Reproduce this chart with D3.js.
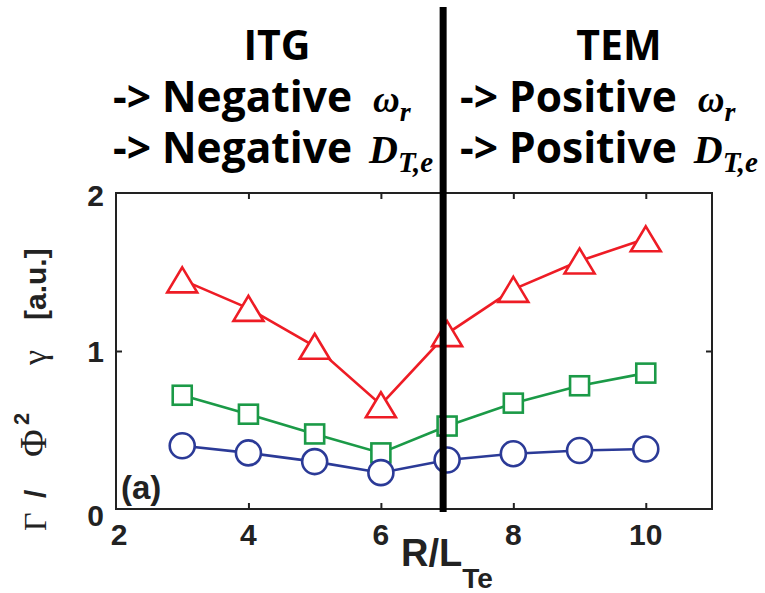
<!DOCTYPE html>
<html>
<head>
<meta charset="utf-8">
<script src="https://cdn.jsdelivr.net/npm/d3@7"></script>
<style>
  html, body { margin: 0; padding: 0; background: #fff; }
  svg { display: block; }
</style>
</head>
<body>
<svg id="chart" width="765" height="593"></svg>
<script>
// Normalized flux vs R/L_Te for three quantities
const xValues = [3, 4, 5, 6, 7, 8, 9, 10];
const fluxA = [1.45, 1.27, 1.03, 0.66, 1.11, 1.39, 1.57, 1.71];  // triangles
const fluxB = [0.72, 0.60, 0.475, 0.355, 0.525, 0.67, 0.78, 0.86]; // squares
const fluxC = [0.40, 0.355, 0.30, 0.23, 0.31, 0.35, 0.37, 0.38];   // circles
const xTicks = [2, 4, 6, 8, 10];
const yTicks = [0, 1, 2];
const xDomain = [2, 11];
const yDomain = [0, 2];
const boundaryX = 6.94; // ITG / TEM transition

const svg = d3.select("#chart");
const sans = "'Liberation Sans', Arial, Helvetica, sans-serif";
const serif = "'Liberation Serif', 'Times New Roman', serif";
const head = "'Open Sans', 'Noto Sans', sans-serif";

const x = d3.scaleLinear().domain(xDomain).range([116, 712]);
const y = d3.scaleLinear().domain(yDomain).range([509, 193]);

// frame
svg.append("rect")
  .attr("x", x(xDomain[0])).attr("y", y(yDomain[1]))
  .attr("width", x(xDomain[1]) - x(xDomain[0]))
  .attr("height", y(yDomain[0]) - y(yDomain[1]))
  .attr("fill", "none").attr("stroke", "#222").attr("stroke-width", 2);

// inward ticks on all four sides
const tickLen = 6;
const axisStyle = g => {
  g.select(".domain").remove();
  g.selectAll(".tick line").attr("stroke", "#222").attr("stroke-width", 2);
  g.selectAll(".tick text").remove();
};
svg.append("g").attr("transform", `translate(0,${y(0)})`)
  .call(d3.axisBottom(x).tickValues(xTicks.slice(1)).tickSize(-tickLen)).call(axisStyle);
svg.append("g").attr("transform", `translate(0,${y(2)})`)
  .call(d3.axisTop(x).tickValues(xTicks.slice(1)).tickSize(-tickLen)).call(axisStyle);
svg.append("g").attr("transform", `translate(${x(2)},0)`)
  .call(d3.axisLeft(y).tickValues([1]).tickSize(-tickLen)).call(axisStyle);
svg.append("g").attr("transform", `translate(${x(11)},0)`)
  .call(d3.axisRight(y).tickValues([1]).tickSize(-tickLen)).call(axisStyle);

// tick labels
svg.append("g").selectAll("text").data(xTicks).join("text")
  .attr("x", d => x(d) + (d === 2 ? 3 : 0))
  .attr("y", 545)
  .attr("text-anchor", "middle")
  .attr("font-family", sans).attr("font-weight", "bold").attr("font-size", 30)
  .attr("fill", "#222")
  .text(d => d);
svg.append("g").selectAll("text").data(yTicks).join("text")
  .attr("x", 104)
  .attr("y", d => y(d) + (d === 0 ? 17 : d === 1 ? 11 : 13))
  .attr("text-anchor", "end")
  .attr("font-family", sans).attr("font-weight", "bold").attr("font-size", 30)
  .attr("fill", "#222")
  .text(d => d);

// x axis title
const xt = svg.append("text").attr("x", 401).attr("y", 566)
  .attr("font-family", sans).attr("font-weight", "bold").attr("fill", "#222");
xt.append("tspan").attr("font-size", 38).text("R/L");
xt.append("tspan").attr("font-size", 28).attr("dy", 22).text("Te");

// y axis title, built piece by piece along the rotated baseline
const yt = svg.append("g").attr("transform", "translate(46,531) rotate(-90)")
  .attr("fill", "#222");
const yParts = [
  { t: "Γ", at: 0, font: serif, size: 32, weight: "normal", dy: 0 },
  { t: "/", at: 33, font: sans, size: 30, weight: "bold", dy: 0 },
  { t: "Φ", at: 74, font: serif, size: 38, weight: "normal", dy: 0 },
  { t: "2", at: 106, font: sans, size: 22, weight: "bold", dy: -17 },
  { t: "γ", at: 166, font: serif, size: 34, weight: "normal", dy: 0 },
  { t: "[a.u.]", at: 211, font: sans, size: 30, weight: "bold", dy: 0 }
];
yt.selectAll("text").data(yParts).join("text")
  .attr("x", d => d.at).attr("y", d => d.dy)
  .attr("font-family", d => d.font).attr("font-size", d => d.size)
  .attr("font-weight", d => d.weight)
  .text(d => d.t);

svg.append("text").attr("x", 121).attr("y", 499)
  .attr("font-family", sans).attr("font-weight", "bold").attr("font-size", 33)
  .attr("fill", "#222").text("(a)");

// series
const series = [
  { values: fluxB, color: "#1b9a47", shape: "square" },
  { values: fluxC, color: "#2b3a97", shape: "circle" },
  { values: fluxA, color: "#ee1c25", shape: "triangle" }
];
const line = d3.line().x((d, i) => x(xValues[i])).y(d => y(d));

series.forEach(s => {
  const g = svg.append("g");
  g.append("path").datum(s.values)
    .attr("d", line).attr("fill", "none")
    .attr("stroke", s.color).attr("stroke-width", 2.6);
  const pts = g.selectAll(".m").data(s.values).join("g")
    .attr("transform", (d, i) => `translate(${x(xValues[i])},${y(d)})`);
  if (s.shape === "circle") {
    pts.append("circle").attr("r", 12.5);
  } else if (s.shape === "square") {
    pts.append("rect").attr("x", -9.5).attr("y", -9.5).attr("width", 19).attr("height", 19);
  } else {
    pts.append("path").attr("d", "M0,-12.5L15,12.5L-15,12.5Z");
  }
  pts.selectAll("*").attr("fill", "#fff").attr("stroke", s.color).attr("stroke-width", 2.6);
});

// regime divider
svg.append("line")
  .attr("x1", x(boundaryX)).attr("x2", x(boundaryX))
  .attr("y1", 7).attr("y2", 512)
  .attr("stroke", "#000").attr("stroke-width", 7);

// regime annotations
function header(cx, yb, txt) {
  return svg.append("text").attr("x", cx).attr("y", yb)
    .attr("text-anchor", "middle")
    .attr("font-family", head).attr("font-weight", "bold").attr("font-size", 41)
    .attr("fill", "#000").text(txt);
}
function mathLine(x0, yb, word, sym, sub, gap) {
  const t = svg.append("text").attr("x", x0).attr("y", yb)
    .attr("font-weight", "bold").attr("fill", "#000");
  t.append("tspan").attr("font-family", head).attr("font-size", 42.5).text("-> " + word);
  t.append("tspan").attr("font-family", serif).attr("font-style", "italic")
    .attr("dx", gap).attr("font-size", sym === "ω" ? 37 : 40).text(sym);
  t.append("tspan").attr("font-family", serif).attr("font-style", "italic")
    .attr("font-size", sym === "ω" ? 28 : 29).attr("dy", 9).text(sub);
}
header(277, 60, "ITG");
mathLine(113, 112, "Negative", "ω", "r", 21);
mathLine(113, 163, "Negative", "D", "T,e", 17);
header(619, 60, "TEM");
mathLine(460, 112, "Positive", "ω", "r", 21);
mathLine(460, 163, "Positive", "D", "T,e", 17);
</script>
</body>
</html>
